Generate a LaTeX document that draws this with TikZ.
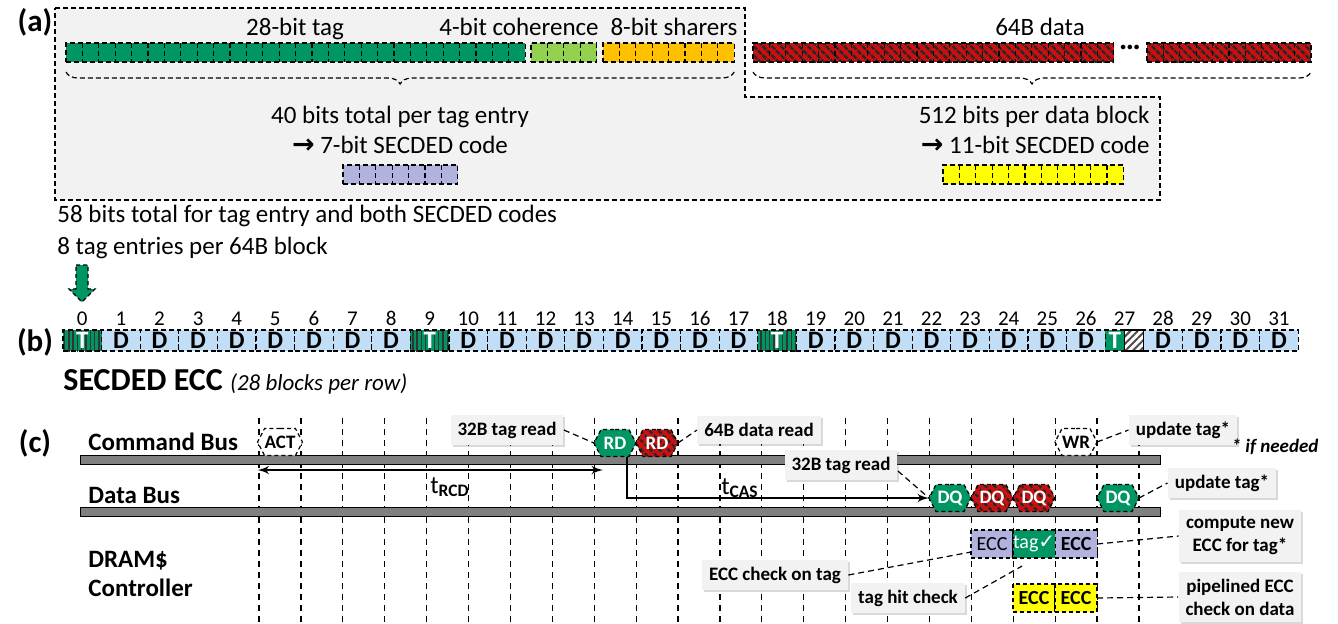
\documentclass[tikz,border=0pt]{standalone}
\usepackage{fontspec}
\setmainfont{Carlito}
\newfontfamily\symfont{DejaVu Sans}
\usepackage{tikz}
\usetikzlibrary{arrows}
\usetikzlibrary{positioning}
\usetikzlibrary{decorations.pathreplacing}
\usetikzlibrary{shapes.symbols}
\usetikzlibrary{patterns.meta}
\usetikzlibrary{shadows}

\definecolor{tagGreen}{RGB}{0,150,100}
\definecolor{cohGreen}{RGB}{146,208,80}
\definecolor{shOrange}{RGB}{255,192,0}
\definecolor{dataRed}{RGB}{200,16,16}
\definecolor{eccPurple}{RGB}{178,178,222}
\definecolor{eccYellow}{RGB}{255,255,0}
\definecolor{blockBlue}{RGB}{194,222,246}
\definecolor{boxGray}{RGB}{242,242,242}
\definecolor{busGray}{RGB}{128,128,128}

% name, position, number of cells, fill
\newcommand{\bitbar}[4]{%
  \node[bit bar, minimum width=#3*8.2pt, #4] (#1) at (#2) {};
  \pgfmathtruncatemacro{\lastcell}{#3-1}
  \foreach \k in {1,...,\lastcell}
    \draw[cell line] ([xshift=\k*8.2pt]#1.north west) -- ([xshift=\k*8.2pt]#1.south west);
}

\begin{document}
\begin{tikzpicture}[x=0.5pt, y=-0.5pt, >=latex', font=\fontsize{12.5}{15}\selectfont]
      \tikzstyle{txt} = [inner sep=0pt]
      \tikzstyle{panel} = [inner sep=0pt, font=\fontsize{15.5}{18}\selectfont\bfseries]
      \tikzstyle{bit bar} = [draw=black, line width=0.6pt, dash pattern=on 2.5pt off 1.5pt, inner sep=0pt, outer sep=0pt, minimum height=9.5pt, anchor=north west]
      \tikzstyle{cell line} = [line width=0.6pt, dash pattern=on 2.5pt off 1.5pt]
      \tikzstyle{red hatch} = [preaction={fill=dataRed}, pattern={Lines[angle=-45,distance=3.2pt,line width=1.1pt]}, pattern color=black!85]
      \tikzstyle{d block} = [bit bar, fill=blockBlue, minimum width=19.3pt, minimum height=10.5pt, font=\fontsize{12.5}{14}\selectfont\bfseries]
      \tikzstyle{t block} = [d block, preaction={fill=tagGreen}, pattern={Lines[angle=90,distance=2.15pt,line width=0.7pt]}, pattern color=black!80, text=white]
      \tikzstyle{num} = [anchor=base, inner sep=0pt, font=\fontsize{10.5}{12}\selectfont]
      \tikzstyle{grid line} = [line width=0.6pt, dash pattern=on 3pt off 2.5pt]
      \tikzstyle{bus} = [draw=black, fill=busGray, line width=0.6pt, minimum width=540pt, minimum height=4.5pt, inner sep=0pt, anchor=north west]
      \tikzstyle{row label} = [anchor=base west, inner sep=0pt, font=\fontsize{12.5}{15}\selectfont\bfseries]
      \tikzstyle{cmd} = [signal, signal to=east and west, signal pointer angle=125, draw=black, dash pattern=on 2pt off 1.5pt, line width=0.6pt, minimum width=21pt, minimum height=13.5pt, inner sep=0pt, outer sep=0pt, font=\fontsize{9.5}{11}\selectfont\bfseries, text=white]
      \tikzstyle{ecc cell} = [draw=black, dash pattern=on 2pt off 1.5pt, line width=0.6pt, minimum width=21pt, minimum height=14pt, inner sep=0pt, outer sep=0pt, font=\fontsize{10}{12}\selectfont]
      \tikzstyle{callout} = [fill=boxGray, drop shadow={shadow xshift=1pt, shadow yshift=-1pt, opacity=0.3}, font=\fontsize{9.5}{11.5}\selectfont\bfseries, inner sep=3.5pt, align=center]
      \tikzstyle{leader} = [line width=0.6pt, dash pattern=on 3pt off 2pt]
      \tikzstyle{timing} = [line width=1pt]

      \useasboundingbox (0,0) rectangle (1338,623);

      %(a) tag entry and data block
      \draw[cell line, fill=boxGray] (55,8) -- (745,8) -- (745,97) -- (1160,97) -- (1160,200) -- (55,200) -- cycle;
      \node[panel] (pa) at (35,22) {(a)};
      \bitbar{tagBits}{66,43}{28}{fill=tagGreen}
      \bitbar{cohBits}{531,43}{4}{fill=cohGreen}
      \bitbar{shBits}{603,43}{8}{fill=shOrange}
      \bitbar{dataBitsA}{753,43}{22}{red hatch}
      \bitbar{dataBitsB}{1147,43}{10}{red hatch}
      \node[font=\fontsize{12.5}{15}\selectfont\bfseries] (dots) at (1130,50) {···};
      \node[txt, anchor=base] (tagLbl) at (295,35) {28-bit tag};
      \node[txt, anchor=base] (cohLbl) at (519,35) {4-bit coherence};
      \node[txt, anchor=base] (shLbl) at (674,35) {8-bit sharers};
      \node[txt, anchor=base] (dataLbl) at (1040,35) {64B data};
      \draw[cell line, decorate, decoration={brace, mirror, amplitude=6pt}] ([yshift=-5pt]tagBits.south west) -- ([yshift=-5pt]shBits.south east);
      \draw[cell line, decorate, decoration={brace, mirror, amplitude=6pt}] ([yshift=-5pt]dataBitsA.south west) -- ([yshift=-5pt]dataBitsB.south east);
      \node[txt, anchor=base] (tagSum) at (400,123) {40 bits total per tag entry};
      \node[txt, anchor=base] (tagEcc) at (400,153) {{\symfont\bfseries\fontsize{13.5}{15}\selectfont →} 7-bit SECDED code};
      \bitbar{eccBitsA}{343,165}{7}{fill=eccPurple}
      \node[txt, anchor=base east] (dataSum) at (1150,123) {512 bits per data block};
      \node[txt, anchor=base east] (dataEcc) at (1150,153) {{\symfont\bfseries\fontsize{13.5}{15}\selectfont →} 11-bit SECDED code};
      \bitbar{eccBitsB}{943,165}{11}{fill=eccYellow}
      \node[txt, anchor=base west] (total) at (57,222) {58 bits total for tag entry and both SECDED codes};
      \node[txt, anchor=base west] (perBlock) at (57,254) {8 tag entries per 64B block};

      %(b) row layout
      \node[panel] (pb) at (35,342) {(b)};
      \draw[line width=0.6pt, dash pattern=on 2pt off 1.5pt, fill=tagGreen] (76,265) -- (88,265) -- (88,289) -- (95,289) -- (82,302) -- (69,289) -- (76,289) -- cycle;
      \foreach \i in {0,...,31}
        \node[num] (n\i) at (82.3+\i*38.6,325) {\i};
      \foreach \i in {1,2,3,4,5,6,7,8,10,11,12,13,14,15,16,17,19,20,21,22,23,24,25,26,28,29,30,31}
        \node[d block] (b\i) at (63+\i*38.6,330) {D};
      \foreach \i in {0,9,18}
        \node[t block] (b\i) at (63+\i*38.6,330) {T};
      \node[t block, minimum width=9.65pt, fill=tagGreen, pattern=none] (b27) at (63+27*38.6,330) {T};
      \node[bit bar, minimum width=9.65pt, minimum height=10.5pt, solid, preaction={fill=white}, pattern={Lines[angle=45,distance=2.6pt,line width=1pt]}, pattern color=black!70] (b27x) at (b27.north east) {};
      \node[txt, anchor=base west, font=\fontsize{16}{19}\selectfont\bfseries] (eccTitle) at (63,390) {SECDED ECC {\mdseries\itshape\fontsize{11.5}{14}\selectfont (28 blocks per row)}};

      %(c) timing
      \node[panel] (pc) at (35,443) {(c)};
      \foreach \i in {0,...,21}
        \draw[grid line] (259+41.9*\i,418) -- (259+41.9*\i,623);
      \node[bus] (cmdBus) at (80,455) {};
      \node[bus] (dataBus) at (80,507) {};
      \node[row label] (cmdLbl) at (88,450) {Command Bus};
      \node[row label] (busLbl) at (88,503) {Data Bus};
      \node[row label] (ctrlLbl) at (88,567) {DRAM\$};
      \node[row label] (ctrlLbl2) at (88,596) {Controller};

      %nodes
      \node[cmd, fill=white, text=black] (act) at (280,442) {ACT};
      \node[cmd, fill=tagGreen] (rdTag) at (615,443) {RD};
      \node[cmd, red hatch, right=0pt of rdTag] (rdData) {RD};
      \node[cmd, fill=white, text=black] (wr) at (1076,442) {WR};
      \node[cmd, fill=tagGreen] (dqTag) at (950,498) {DQ};
      \node[cmd, red hatch, right=0pt of dqTag] (dqDataA) {DQ};
      \node[cmd, red hatch, right=0pt of dqDataA] (dqDataB) {DQ};
      \node[cmd, fill=tagGreen] (dqUpd) at (1118,498) {DQ};
      \node[ecc cell, fill=eccPurple] (eccChk) at (992,544) {ECC};
      \node[ecc cell, fill=tagGreen, text=white, right=0pt of eccChk] (tagChk) {tag{\symfont ✓}};
      \node[ecc cell, fill=eccPurple, font=\fontsize{10}{12}\selectfont\bfseries, right=0pt of tagChk] (eccNew) {ECC};
      \node[ecc cell, fill=eccYellow, font=\fontsize{10}{12}\selectfont\bfseries] (eccDataA) at (1034,598) {ECC};
      \node[ecc cell, fill=eccYellow, font=\fontsize{10}{12}\selectfont\bfseries, right=0pt of eccDataA] (eccDataB) {ECC};

      \node[callout] (tagRead) at (507,430) {32B tag read};
      \node[callout] (dataRead) at (759,430) {64B data read};
      \node[callout] (tagRead2) at (841,465) {32B tag read};
      \node[callout] (updTag) at (1183,430) {update tag*};
      \node[txt, font=\fontsize{9.5}{11}\selectfont\bfseries\itshape] (ifNeeded) at (1275,447) {* if needed};
      \node[callout] (updTag2) at (1222,483) {update tag*};
      \node[callout] (newEcc) at (1240,536) {compute new\\ECC for tag*};
      \node[callout] (chkEcc) at (775,575) {ECC check on tag};
      \node[callout] (hitChk) at (908,598) {tag hit check};
      \node[callout] (pipeEcc) at (1240,597) {pipelined ECC\\check on data};

      %lines
      \draw[timing, <->] ([yshift=-14pt]act.west) -- ([xshift=4.5pt,yshift=-13.5pt]rdTag.west);
      \node[txt] (tRCD) at (450,487) {t\textsubscript{\bfseries RCD}};
      \draw[timing, ->] ([xshift=6pt]rdTag.south) |- (dqTag.west);
      \node[txt] (tCAS) at (740,488) {t\textsubscript{\bfseries CAS}};
      \draw[leader] (tagRead.east) -- (rdTag.west);
      \draw[leader] (rdData.east) -- (dataRead.west);
      \draw[leader] ([yshift=-3pt]tagRead2.east) -- (dqTag.west);
      \draw[leader] (wr.east) -- (updTag.west);
      \draw[leader] (dqUpd.east) -- (updTag2.west);
      \draw[leader] (eccNew.east) -- (newEcc.west);
      \draw[leader] (chkEcc.east) -- ([yshift=-4pt]eccChk.west);
      \draw[leader] (hitChk.east) -- ([xshift=-6pt,yshift=-4pt]tagChk.south);
      \draw[leader] (eccDataB.east) -- (pipeEcc.west);
\end{tikzpicture}
\end{document}
